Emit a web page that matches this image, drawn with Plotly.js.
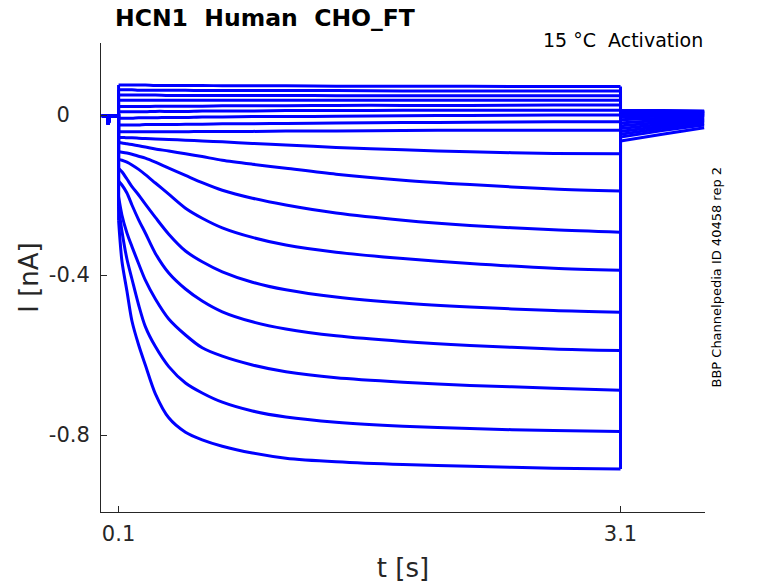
<!DOCTYPE html>
<html>
<head>
<meta charset="utf-8">
<script src="https://cdn.plot.ly/plotly-3.0.1.min.js"></script>
<style>
  html, body { margin: 0; padding: 0; background: #fff; }
  #hcn_activation { width: 778px; height: 583px; }
</style>
</head>
<body>
<div id="hcn_activation"></div>
<script>
// holding period before the step (same for every sweep)
const tPre = [0, 0.036, 0.039, 0.042, 0.045, 0.1];
const iPre = [-0.002, -0.002, -0.024, -0.008, -0.002, -0.002];

// time points read along the voltage step
const tStep = [0.1, 0.12, 0.15, 0.18, 0.22, 0.26, 0.32, 0.4, 0.5, 0.6, 0.72, 0.9, 1.1, 1.4, 1.8, 2.2, 2.7, 3.1];

// current during the step, one array per sweep [nA], top to bottom
const sweep01 = [0.075, 0.075, 0.075, 0.075, 0.075, 0.075, 0.074, 0.074, 0.074, 0.074, 0.073, 0.073, 0.073, 0.072, 0.072, 0.072, 0.071, 0.071];
const sweep02 = [0.063, 0.063, 0.063, 0.063, 0.062, 0.062, 0.062, 0.062, 0.062, 0.061, 0.061, 0.061, 0.061, 0.061, 0.060, 0.060, 0.060, 0.060];
const sweep03 = [0.050, 0.050, 0.050, 0.050, 0.050, 0.050, 0.050, 0.049, 0.049, 0.049, 0.049, 0.049, 0.049, 0.048, 0.048, 0.048, 0.048, 0.048];
const sweep04 = [0.037, 0.037, 0.037, 0.037, 0.037, 0.037, 0.037, 0.037, 0.037, 0.037, 0.037, 0.037, 0.037, 0.037, 0.037, 0.037, 0.037, 0.037];
const sweep05 = [0.021, 0.021, 0.021, 0.021, 0.021, 0.021, 0.022, 0.022, 0.022, 0.022, 0.023, 0.023, 0.023, 0.024, 0.024, 0.024, 0.025, 0.025];
const sweep06 = [0.008, 0.008, 0.008, 0.008, 0.008, 0.008, 0.009, 0.009, 0.009, 0.010, 0.010, 0.010, 0.011, 0.011, 0.012, 0.012, 0.012, 0.012];
const sweep07 = [-0.008, -0.008, -0.008, -0.008, -0.007, -0.007, -0.007, -0.006, -0.006, -0.005, -0.005, -0.004, -0.004, -0.003, -0.002, -0.001, 0.000, 0.000];
const sweep08 = [-0.025, -0.025, -0.025, -0.025, -0.025, -0.024, -0.024, -0.024, -0.023, -0.023, -0.022, -0.022, -0.021, -0.020, -0.019, -0.018, -0.017, -0.017];
const sweep09 = [-0.042, -0.042, -0.042, -0.042, -0.042, -0.042, -0.042, -0.042, -0.042, -0.041, -0.041, -0.041, -0.040, -0.040, -0.039, -0.038, -0.038, -0.038];
const sweep10 = [-0.056, -0.056, -0.057, -0.057, -0.058, -0.059, -0.060, -0.061, -0.063, -0.065, -0.067, -0.071, -0.075, -0.081, -0.087, -0.092, -0.096, -0.097];
const sweep11 = [-0.069, -0.070, -0.072, -0.074, -0.077, -0.080, -0.085, -0.090, -0.097, -0.104, -0.113, -0.123, -0.133, -0.148, -0.163, -0.174, -0.185, -0.190];
const sweep12 = [-0.092, -0.093, -0.095, -0.098, -0.103, -0.108, -0.118, -0.133, -0.151, -0.169, -0.188, -0.208, -0.225, -0.245, -0.263, -0.276, -0.287, -0.293];
const sweep13 = [-0.111, -0.113, -0.118, -0.125, -0.136, -0.149, -0.170, -0.198, -0.233, -0.258, -0.282, -0.306, -0.325, -0.343, -0.359, -0.371, -0.383, -0.388];
const sweep14 = [-0.133, -0.142, -0.160, -0.179, -0.200, -0.223, -0.256, -0.298, -0.340, -0.367, -0.392, -0.418, -0.437, -0.455, -0.470, -0.480, -0.489, -0.493];
const sweep15 = [-0.165, -0.175, -0.195, -0.225, -0.262, -0.295, -0.346, -0.395, -0.435, -0.465, -0.492, -0.517, -0.535, -0.552, -0.566, -0.576, -0.585, -0.589];
const sweep16 = [-0.204, -0.250, -0.295, -0.329, -0.372, -0.413, -0.460, -0.510, -0.550, -0.582, -0.603, -0.625, -0.642, -0.657, -0.668, -0.676, -0.683, -0.688];
const sweep17 = [-0.229, -0.290, -0.360, -0.410, -0.475, -0.529, -0.579, -0.629, -0.670, -0.695, -0.718, -0.740, -0.755, -0.768, -0.778, -0.784, -0.789, -0.791];
const sweep18 = [-0.263, -0.365, -0.440, -0.515, -0.575, -0.625, -0.697, -0.757, -0.793, -0.812, -0.828, -0.845, -0.858, -0.867, -0.874, -0.878, -0.883, -0.885];

// tail currents after the step, one value per sweep
const tTail = [3.1, 3.35, 3.6];
const tailStart = [0.012, 0.011, 0.010, 0.009, 0.008, 0.006, 0.004, 0.002, 0.000, -0.005, -0.012, -0.020, -0.027, -0.034, -0.041, -0.048, -0.055, -0.065];
const tailMid = [0.011, 0.010, 0.009, 0.008, 0.007, 0.005, 0.003, 0.001, -0.001, -0.003, -0.008, -0.013, -0.018, -0.023, -0.028, -0.033, -0.039, -0.048];
const tailEnd = [0.010, 0.009, 0.008, 0.007, 0.006, 0.004, 0.002, 0.000, -0.001, -0.002, -0.005, -0.008, -0.011, -0.014, -0.017, -0.021, -0.025, -0.032];

const sweeps = [sweep01, sweep02, sweep03, sweep04, sweep05, sweep06, sweep07, sweep08, sweep09,
  sweep10, sweep11, sweep12, sweep13, sweep14, sweep15, sweep16, sweep17, sweep18];

const traceColor = '#0000ff';
const axisColor = '#262626';
const fontFamily = 'DejaVu Sans, Liberation Sans, sans-serif';
const lineStyle = { color: traceColor, width: 3 };

const data = [];
sweeps.forEach((sweep, i) => {
  const last = sweep.length - 1;
  // holding + jump onto the step
  data.push({
    x: tPre.concat([tStep[0]]),
    y: iPre.concat([sweep[0]]),
    type: 'scatter', mode: 'lines', line: lineStyle,
    hoverinfo: 'skip', showlegend: false,
  });
  // the step itself, smoothed
  data.push({
    x: tStep,
    y: sweep,
    type: 'scatter', mode: 'lines',
    line: Object.assign({ shape: 'spline', smoothing: 0.8 }, lineStyle),
    hoverinfo: 'skip', showlegend: false,
  });
  // jump back at 3.1 s + tail
  data.push({
    x: [tStep[last]].concat(tTail),
    y: [sweep[last], tailStart[i], tailMid[i], tailEnd[i]],
    type: 'scatter', mode: 'lines', line: lineStyle,
    hoverinfo: 'skip', showlegend: false,
  });
});

const layout = {
  width: 778,
  height: 583,
  margin: { l: 101, r: 73, t: 43, b: 71, pad: 0 },
  paper_bgcolor: '#ffffff',
  plot_bgcolor: '#ffffff',
  font: { family: fontFamily, color: axisColor },
  showlegend: false,
  title: {
    text: '<b>HCN1\u00a0 Human\u00a0 CHO_FT</b>',
    font: { family: fontFamily, size: 23.5, color: '#000000' },
    xref: 'container',
    x: 115 / 778,
    xanchor: 'left',
    yref: 'container',
    y: 1 - 18 / 583,
    yanchor: 'middle',
  },
  xaxis: {
    range: [-0.005, 3.605],
    tickvals: [0.1, 3.1],
    ticktext: ['0.1', '3.1'],
    ticks: 'inside',
    ticklen: 6,
    tickcolor: axisColor,
    showline: true,
    linecolor: axisColor,
    linewidth: 1,
    mirror: false,
    showgrid: false,
    zeroline: false,
    tickfont: { size: 21, color: axisColor },
    ticklabelstandoff: 3,
    title: { text: 't [s]', font: { size: 26, color: axisColor }, standoff: 17 },
  },
  yaxis: {
    range: [-0.9925, 0.18],
    tickvals: [-0.8, -0.4, 0],
    ticktext: ['-0.8', '-0.4', '0\u2007\u00a0'],
    ticks: 'inside',
    ticklen: 6,
    tickcolor: axisColor,
    showline: true,
    linecolor: axisColor,
    linewidth: 1,
    mirror: false,
    showgrid: false,
    zeroline: false,
    tickfont: { size: 21, color: axisColor },
    ticklabelstandoff: 6,
    title: { text: 'I [nA]', font: { size: 26, color: axisColor }, standoff: 2 },
  },
  annotations: [
    {
      text: '15 \u00b0C\u00a0 Activation',
      xref: 'paper',
      yref: 'paper',
      x: 1,
      y: 1,
      xanchor: 'right',
      yanchor: 'middle',
      yshift: 3,
      showarrow: false,
      font: { family: fontFamily, size: 19, color: '#000000' },
    },
    {
      text: 'BBP Channelpedia ID 40458 rep 2',
      xref: 'paper',
      yref: 'paper',
      x: (716 - 101) / 604,
      y: 0.5,
      xanchor: 'center',
      yanchor: 'middle',
      textangle: -90,
      showarrow: false,
      font: { family: fontFamily, size: 13, color: '#000000' },
    },
  ],
};

Plotly.newPlot('hcn_activation', data, layout, { displayModeBar: false, responsive: false });
</script>
</body>
</html>
